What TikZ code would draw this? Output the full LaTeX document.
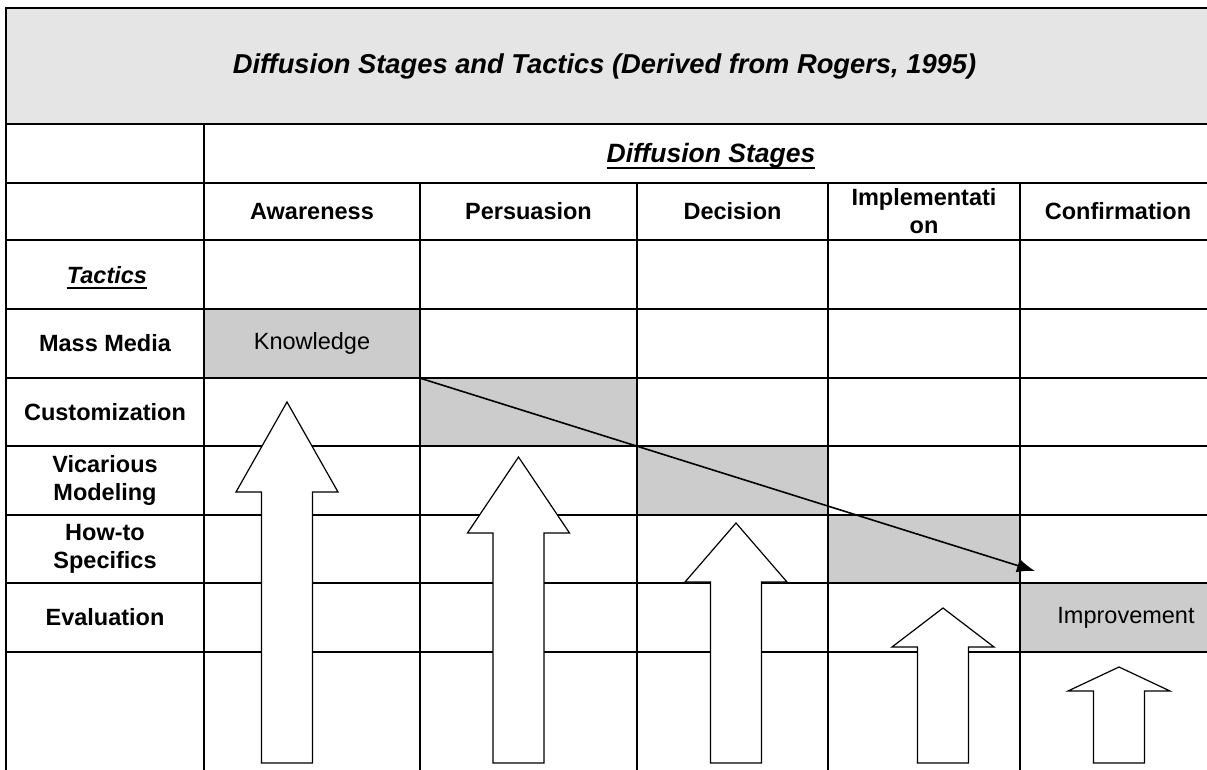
\documentclass[tikz,border=0pt]{standalone}
\usepackage{fontspec}
\setmainfont{Liberation Sans}
\usetikzlibrary{arrows.meta}
% heavy underline for the header words
\newcommand{\heavyul}[1]{\vtop{\hbox{\raisebox{0pt}[\height][0pt]{#1}}\kern4pt\hrule height 1.8pt}}

\begin{document}
\begin{tikzpicture}[x=1pt,y=-1pt]
        \tikzstyle{rule}=[line width=2pt]
        \tikzstyle{cell}=[inner sep=0pt,fill=black!20]
        \tikzstyle{head}=[align=center,font=\fontsize{23.5}{28}\selectfont\bfseries]
        \tikzstyle{plain}=[font=\fontsize{23.5}{27}\selectfont]
        \tikzstyle{banner}=[font=\fontsize{26.5}{30}\selectfont\bfseries\itshape]
        \tikzstyle{blockarrow}=[draw=black,fill=white,line width=1.2pt,line join=miter]
        \useasboundingbox (0,0) rectangle (1207,770);

        % title band and shaded cells
        \fill[black!10] (6,8) rectangle (1207,124);
        \node [cell,minimum width=216pt,minimum height=69pt] (know) at (312,343.5) {};
        \node [cell,minimum width=217pt,minimum height=68pt] (pers) at (528.5,412) {};
        \node [cell,minimum width=191pt,minimum height=69pt] (deci) at (732.5,480.5) {};
        \node [cell,minimum width=192pt,minimum height=68pt] (impl) at (924,549) {};
        \node [cell,minimum width=187pt,minimum height=69pt] (conf) at (1113.5,617.5) {};

        % table rules
        \draw[rule] (6,770) -- (6,8) -- (1207,8);
        \foreach \y in {124,183,240,309,378,446,515,583,652}
          \draw[rule] (6,\y) -- (1207,\y);
        \draw[rule] (204,124) -- (204,770);
        \foreach \x in {420,637,828,1020}
          \draw[rule] (\x,183) -- (\x,770);

        % texts
        \node [banner,font=\fontsize{27.3}{30}\selectfont\bfseries\itshape] (title) at (604.5,66) {Diffusion Stages and Tactics (Derived from Rogers, 1995)};
        \node [banner,anchor=base] (stages) at (711,163) {\heavyul{Diffusion Stages}};
        \node [head] (aware) at (312,211.5) {Awareness};
        \node [head] (persu) at (528.5,211.5) {Persuasion};
        \node [head] (decis) at (732.5,211.5) {Decision};
        \node [head] (imple) at (924,211.5) {Implementati\\on};
        \node [head] (confi) at (1118,211.5) {Confirmation};
        \node [head,anchor=base] (tactics) at (107,283) {\itshape\heavyul{Tactics}};
        \node [head] (mass) at (105,343.5) {Mass Media};
        \node [head] (custom) at (105,412) {Customization};
        \node [head] (vicar) at (105,480.5) {Vicarious\\Modeling};
        \node [head] (howto) at (105,549) {How-to\\Specifics};
        \node [head] (evalu) at (105,617.5) {Evaluation};
        \node [plain] (knowtxt) at (312,343.5) {Knowledge};
        \node [plain] (improve) at (1126,617.5) {Improvement};

        % stage arrows
        \foreach \cx/\tip/\base in {287/402/492, 518.5/457/533, 736/523/582, 943/608/647, 1119/667/691}
          \draw[blockarrow] (\cx-25.5,763) -- (\cx-25.5,\base) -- (\cx-51,\base) -- (\cx,\tip)
            -- (\cx+51,\base) -- (\cx+25.5,\base) -- (\cx+25.5,763) -- cycle;

        % path through the stages
        \coordinate (pathend) at (1035,571);
        \draw[line width=1.6pt,-{Latex[length=18pt,width=14pt]}] (know.south east) -- (pathend);
\end{tikzpicture}
\end{document}
